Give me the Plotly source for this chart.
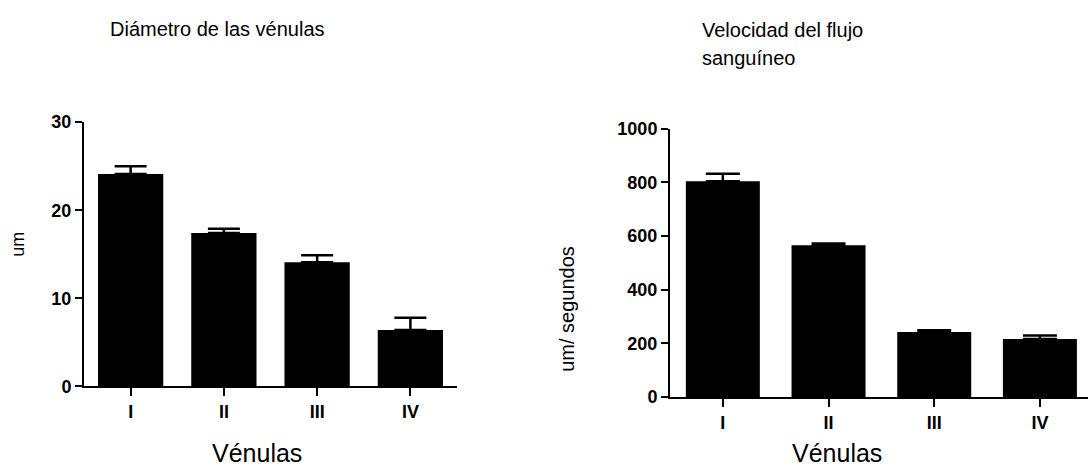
import plotly.graph_objects as go

# Vénulas categories
venulas = ["I", "II", "III", "IV"]

# Diámetro de las vénulas (um): mean and upper error
diametro = [24.1, 17.4, 14.1, 6.4]
diametro_err = [0.9, 0.5, 0.8, 1.4]

# Velocidad del flujo sanguíneo (um/segundos): mean and upper error
velocidad = [804, 566, 242, 216]
velocidad_err = [28, 6, 7, 13]

diam_ticks = [0, 10, 20, 30]
vel_ticks = [0, 200, 400, 600, 800, 1000]

W, H = 1088, 475


def px_x(x):
    return x / W


def px_y(y):
    return 1 - y / H


fig = go.Figure()

fig.add_trace(go.Bar(
    x=venulas, y=diametro, xaxis="x", yaxis="y", width=0.7,
    marker=dict(color="black", line=dict(width=0)),
    error_y=dict(type="data", array=diametro_err, arrayminus=[0] * len(diametro_err),
                 symmetric=False, color="black", thickness=2.5, width=16),
    showlegend=False,
))

fig.add_trace(go.Bar(
    x=venulas, y=velocidad, xaxis="x2", yaxis="y2", width=0.7,
    marker=dict(color="black", line=dict(width=0)),
    error_y=dict(type="data", array=velocidad_err, arrayminus=[0] * len(velocidad_err),
                 symmetric=False, color="black", thickness=2.5, width=17),
    showlegend=False,
))

tick_font = dict(family="Liberation Sans Narrow, Liberation Sans, Arial", size=18,
                 color="black", weight="bold")
axis_common = dict(showline=True, linecolor="black", linewidth=2, ticks="outside",
                   tickwidth=2, tickcolor="black", showgrid=False, zeroline=False,
                   tickfont=tick_font, fixedrange=True)

fig.update_layout(
    width=W, height=H,
    margin=dict(l=0, r=0, t=0, b=0),
    paper_bgcolor="white", plot_bgcolor="white",
    font=dict(family="Liberation Sans, Arial", color="black"),
    xaxis=dict(domain=[px_x(84), px_x(457)], range=[-0.5, 3.5], anchor="y",
               ticklen=8, **axis_common),
    yaxis=dict(domain=[px_y(393), px_y(117)], range=[0, 30], anchor="x",
               tickvals=diam_ticks, ticklen=7, **axis_common),
    xaxis2=dict(domain=[px_x(670), 1.0], range=[-0.5, 3.455], anchor="y2",
                ticklen=8, **axis_common),
    yaxis2=dict(domain=[px_y(404), px_y(124)], range=[0, 1000], anchor="x2",
                tickvals=vel_ticks, ticklen=7, **axis_common),
)

text_font = dict(family="Liberation Sans, Arial", size=20, color="black")

annotations = [
    dict(text="Diámetro de las vénulas", x=px_x(108), y=px_y(20),
         xanchor="left", yanchor="middle", font=text_font),
    dict(text="Velocidad del flujo", x=px_x(700), y=px_y(21),
         xanchor="left", yanchor="middle", font=text_font),
    dict(text="sanguíneo", x=px_x(700), y=px_y(50),
         xanchor="left", yanchor="middle", font=text_font),
    dict(text="um", x=px_x(18), y=px_y(245), textangle=-90,
         xanchor="center", yanchor="middle", font=dict(text_font, size=18)),
    dict(text="um/ segundos", x=px_x(567), y=px_y(312), textangle=-90,
         xanchor="center", yanchor="middle", font=dict(text_font, size=20)),
    dict(text="Vénulas", x=px_x(257), y=px_y(462),
         xanchor="center", yanchor="middle", font=dict(text_font, size=25)),
    dict(text="Vénulas", x=px_x(837), y=px_y(462),
         xanchor="center", yanchor="middle", font=dict(text_font, size=25)),
]
for a in annotations:
    a.update(xref="paper", yref="paper", showarrow=False)
fig.update_layout(annotations=annotations)

fig.write_html("out.html")
